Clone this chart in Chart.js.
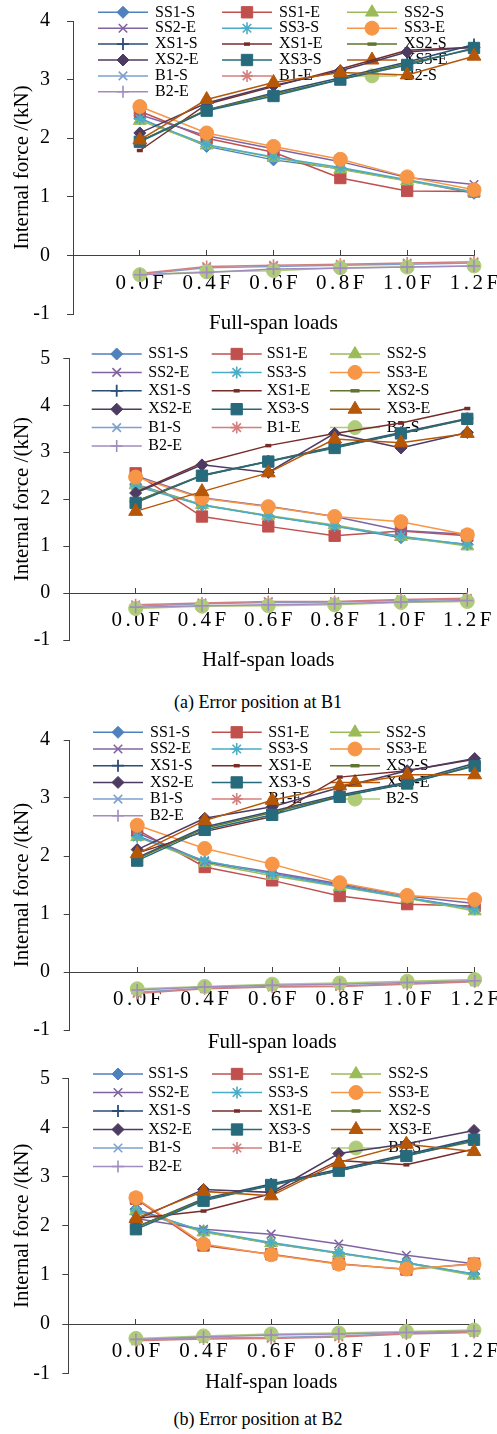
<!DOCTYPE html>
<html>
<head>
<meta charset="utf-8">
<script src="https://cdn.jsdelivr.net/npm/chart.js@4.4.1/dist/chart.umd.min.js"></script>
<style>
html,body{margin:0;padding:0;background:#fff;}
body{width:497px;height:1434px;position:relative;overflow:hidden;}
canvas{position:absolute;left:0;}
.cap{position:absolute;left:258px;transform:translateX(-50%);white-space:nowrap;
  font-family:"Liberation Serif","Times New Roman",Times,serif;font-size:18px;line-height:18px;height:18px;color:#000;}
</style>
</head>
<body>
<canvas id="c1"></canvas>
<canvas id="c2"></canvas>
<div class="cap" style="top:693px">(a) Error position at B1</div>
<canvas id="c3"></canvas>
<canvas id="c4"></canvas>
<div class="cap" style="top:1410px">(b) Error position at B2</div>
<script>
// ---------- data ----------
const categories = ['0.0F', '0.4F', '0.6F', '0.8F', '1.0F', '1.2F'];
const seriesNames = ['SS1-S', 'SS1-E', 'SS2-S', 'SS2-E', 'SS3-S', 'SS3-E',
  'XS1-S', 'XS1-E', 'XS2-S', 'XS2-E', 'XS3-S', 'XS3-E',
  'B1-S', 'B1-E', 'B2-S', 'B2-E'];
const yTicksFull = [-1, 0, 1, 2, 3, 4];
const yTicksHalf = [-1, 0, 1, 2, 3, 4, 5];

// (a) error at B1, full-span loads
const b1Full = [
  [2.34, 1.86, 1.63, 1.48, 1.28, 1.06],
  [2.46, 2.00, 1.76, 1.32, 1.10, 1.09],
  [2.30, 1.88, 1.67, 1.47, 1.27, 1.08],
  [2.40, 2.04, 1.82, 1.60, 1.33, 1.21],
  [2.33, 1.89, 1.68, 1.50, 1.29, 1.08],
  [2.54, 2.09, 1.86, 1.64, 1.34, 1.12],
  [1.95, 2.48, 2.77, 3.03, 3.30, 3.60],
  [1.79, 2.58, 2.88, 3.18, 3.50, 3.55],
  [1.95, 2.48, 2.75, 3.00, 3.28, 3.52],
  [2.09, 2.60, 2.90, 3.15, 3.47, 3.55],
  [1.94, 2.47, 2.72, 3.00, 3.25, 3.54],
  [1.97, 2.66, 2.95, 3.12, 3.08, 3.40],
  [-0.32, -0.21, -0.19, -0.17, -0.15, -0.13],
  [-0.31, -0.19, -0.17, -0.15, -0.13, -0.11],
  [-0.33, -0.28, -0.26, -0.21, -0.20, -0.18],
  [-0.33, -0.29, -0.23, -0.22, -0.20, -0.18]
];
// (a) error at B1, half-span loads
const b1Half = [
  [2.32, 1.88, 1.64, 1.43, 1.18, 1.04],
  [2.55, 1.63, 1.42, 1.22, 1.32, 1.22],
  [2.30, 1.88, 1.65, 1.45, 1.20, 1.00],
  [2.50, 2.03, 1.85, 1.63, 1.33, 1.25],
  [2.28, 1.87, 1.64, 1.43, 1.21, 1.03],
  [2.47, 2.02, 1.84, 1.63, 1.52, 1.24],
  [1.95, 2.51, 2.81, 3.12, 3.42, 3.72],
  [2.15, 2.77, 3.14, 3.40, 3.62, 3.93],
  [1.95, 2.50, 2.80, 3.10, 3.40, 3.70],
  [2.13, 2.73, 2.57, 3.40, 3.09, 3.42],
  [1.92, 2.50, 2.80, 3.09, 3.40, 3.71],
  [1.74, 2.16, 2.56, 3.28, 3.20, 3.40],
  [-0.28, -0.23, -0.20, -0.19, -0.16, -0.13],
  [-0.25, -0.21, -0.18, -0.18, -0.14, -0.11],
  [-0.33, -0.28, -0.27, -0.25, -0.20, -0.18],
  [-0.30, -0.27, -0.25, -0.23, -0.19, -0.16]
];
// (b) error at B2, full-span loads
const b2Full = [
  [2.35, 1.89, 1.70, 1.50, 1.28, 1.10],
  [2.45, 1.81, 1.58, 1.31, 1.17, 1.14],
  [2.33, 1.88, 1.66, 1.47, 1.27, 1.05],
  [2.40, 1.90, 1.72, 1.52, 1.31, 1.18],
  [2.33, 1.92, 1.69, 1.48, 1.28, 1.08],
  [2.53, 2.13, 1.86, 1.54, 1.32, 1.25],
  [1.97, 2.50, 2.77, 3.05, 3.27, 3.60],
  [2.05, 2.42, 2.68, 3.36, 3.47, 3.67],
  [1.95, 2.48, 2.75, 3.03, 3.25, 3.57],
  [2.11, 2.65, 2.85, 3.18, 3.47, 3.68],
  [1.92, 2.45, 2.71, 3.02, 3.25, 3.55],
  [2.04, 2.61, 2.96, 3.21, 3.40, 3.40],
  [-0.35, -0.28, -0.25, -0.24, -0.20, -0.16],
  [-0.37, -0.29, -0.26, -0.25, -0.21, -0.17],
  [-0.29, -0.25, -0.21, -0.19, -0.16, -0.13],
  [-0.31, -0.26, -0.23, -0.21, -0.18, -0.15]
];
// (b) error at B2, half-span loads
const b2Half = [
  [2.34, 1.88, 1.64, 1.44, 1.25, 1.02],
  [2.55, 1.60, 1.42, 1.23, 1.11, 1.23],
  [2.30, 1.87, 1.65, 1.44, 1.24, 0.99],
  [2.15, 1.93, 1.83, 1.63, 1.40, 1.23],
  [2.30, 1.90, 1.66, 1.45, 1.25, 1.02],
  [2.57, 1.63, 1.41, 1.22, 1.12, 1.22],
  [1.97, 2.55, 2.85, 3.15, 3.45, 3.77],
  [2.15, 2.30, 2.65, 3.33, 3.24, 3.56],
  [1.97, 2.53, 2.82, 3.12, 3.43, 3.72],
  [2.12, 2.74, 2.68, 3.47, 3.67, 3.94],
  [1.93, 2.51, 2.83, 3.12, 3.42, 3.75],
  [2.15, 2.70, 2.61, 3.29, 3.66, 3.51],
  [-0.32, -0.28, -0.27, -0.24, -0.19, -0.16],
  [-0.34, -0.30, -0.29, -0.26, -0.20, -0.17],
  [-0.29, -0.24, -0.20, -0.18, -0.15, -0.12],
  [-0.31, -0.26, -0.22, -0.20, -0.17, -0.14]
];

// ---------- styles ----------
const SERIF = '"Liberation Serif","Times New Roman",Times,serif';
const AXIS = '#404040';
const seriesColors = ['#4F81BD', '#C0504D', '#9BBB59', '#8064A2', '#4BACC6', '#F79646',
  '#2C4D75', '#772C2A', '#5F7530', '#4D3B62', '#276A7C', '#B65708',
  '#7EA0CF', '#D47F7D', '#AFCB78', '#A18CC0'];
const seriesMarkers = ['rectRot', 'rect', 'triangle', 'crossRot', 'star', 'circle',
  'cross', 'line', 'line', 'rectRot', 'rect', 'triangle',
  'crossRot', 'star', 'circle', 'cross'];
const markerRadius = [6, 8, 7.5, 6, 6, 7, 6, 3, 4.5, 6, 8, 8, 6, 6, 7, 6];
const markerBorder = [1, 1, 1, 1.6, 1.6, 1, 1.8, 3.5, 3.5, 1, 1, 1, 1.6, 1.6, 1, 1.6];

const panels = [
  {id: 'c1', values: b1Full, yTicks: yTicksFull, title: 'Full-span loads', top: 0, height: 336,
   plotTop: 21, plotBottom: 314, axisX: 73, plotRight: 474, titleGap: 0, yLabelPad: 17,
   legend: {lineX: [98, 222, 347], textX: [155, 279, 404], rowY: 12.3, rowStep: 15.9}},
  {id: 'c2', values: b1Half, yTicks: yTicksHalf, title: 'Half-span loads', top: 340, height: 334,
   plotTop: 358.3, plotBottom: 640, axisX: 69.3, plotRight: 467.3, titleGap: 11.5, yLabelPad: 13,
   legend: {lineX: [91.7, 211.7, 330], textX: [148.3, 266.7, 386.7], rowY: 354, rowStep: 18.4}},
  {id: 'c3', values: b2Full, yTicks: yTicksFull, title: 'Full-span loads', top: 716, height: 339,
   plotTop: 740, plotBottom: 1030, axisX: 69.7, plotRight: 474.7, titleGap: 3, yLabelPad: 13.7,
   legend: {lineX: [93, 211.7, 330], textX: [150, 268.3, 386], rowY: 732.3, rowStep: 16.7}},
  {id: 'c4', values: b2Half, yTicks: yTicksHalf, title: 'Half-span loads', top: 1056, height: 340,
   plotTop: 1078.3, plotBottom: 1373.3, axisX: 68.3, plotRight: 474, titleGap: 0, yLabelPad: 12.3,
   legend: {lineX: [93, 212, 331], textX: [148.3, 268.3, 388.3], rowY: 1074, rowStep: 18.5}}
];

// legend laid out as a 3-column grid, drawn from the datasets' own styles
const gridLegend = {
  id: 'gridLegend',
  beforeDatasetsDraw(chart, args, opts) {
    const ctx = chart.ctx;
    ctx.save();
    chart.data.datasets.forEach((ds, i) => {
      const col = i % 3, row = Math.floor(i / 3);
      const x0 = opts.lineX[col];
      const y = opts.rowY + row * opts.rowStep;
      ctx.strokeStyle = ds.borderColor;
      ctx.lineWidth = ds.borderWidth;
      ctx.beginPath();
      ctx.moveTo(x0, y);
      ctx.lineTo(x0 + opts.lineLen, y);
      ctx.stroke();
      ctx.fillStyle = ds.pointBackgroundColor;
      ctx.strokeStyle = ds.pointBorderColor;
      ctx.lineWidth = ds.pointBorderWidth;
      Chart.helpers.drawPoint(ctx, {pointStyle: ds.pointStyle, radius: ds.pointRadius, rotation: 0,
        borderWidth: ds.pointBorderWidth}, x0 + opts.lineLen / 2, y);
      ctx.fillStyle = '#000';
      ctx.font = opts.font;
      ctx.textAlign = 'left';
      ctx.textBaseline = 'middle';
      ctx.fillText(ds.label, opts.textX[col], y);
    });
    ctx.restore();
  }
};

panels.forEach(p => {
  const cv = document.getElementById(p.id);
  cv.width = 497;
  cv.height = p.height;
  cv.style.top = p.top + 'px';
  const titleBox = p.titleGap + 18;
  const padBottom = p.height - (p.plotBottom - p.top) - titleBox;

  const datasets = seriesNames.map((name, i) => ({
    label: name,
    data: p.values[i].map((v, j) => ({x: j, y: v})),
    borderColor: seriesColors[i],
    backgroundColor: seriesColors[i],
    pointBackgroundColor: seriesColors[i],
    pointBorderColor: seriesColors[i],
    pointStyle: seriesMarkers[i],
    pointRadius: markerRadius[i],
    pointBorderWidth: markerBorder[i],
    borderWidth: 1.5,
    tension: 0,
    fill: false,
    clip: false,
    order: -i
  }));

  new Chart(cv, {
    type: 'line',
    data: {datasets},
    options: {
      responsive: false,
      animation: false,
      devicePixelRatio: 1,
      events: [],
      layout: {padding: {left: 0, top: p.plotTop - p.top, right: 497 - p.plotRight, bottom: padBottom}},
      plugins: {
        legend: {display: false},
        tooltip: {enabled: false},
        title: {
          display: true, text: p.title, position: 'bottom', fullSize: false, color: '#000',
          font: {family: SERIF, size: 21, weight: 'normal', lineHeight: '18px'},
          padding: {top: p.titleGap, bottom: 0}
        },
        gridLegend: {
          lineX: p.legend.lineX, textX: p.legend.textX, lineLen: 50,
          rowY: p.legend.rowY - p.top, rowStep: p.legend.rowStep,
          font: '16px ' + SERIF
        }
      },
      scales: {
        x: {
          type: 'linear', position: {y: 0}, min: -1, max: 5,
          ticks: {
            stepSize: 1, autoSkip: false, maxRotation: 0, minRotation: 0, color: '#000',
            font: {family: SERIF, size: 21}, padding: 21,
            callback: (v) => categories[v] ? categories[v].split('').join('\u2006') : ''
          },
          grid: {drawOnChartArea: false, drawTicks: true, tickLength: -6, color: AXIS, lineWidth: 1},
          border: {display: true, color: AXIS, width: 1},
          afterFit(s) { s.paddingLeft = 0; s.paddingRight = 0; }
        },
        y: {
          type: 'linear', position: 'left',
          min: p.yTicks[0], max: p.yTicks[p.yTicks.length - 1],
          ticks: {stepSize: 1, color: '#000', font: {family: SERIF, size: 20}, padding: p.yLabelPad,
            callback: (v) => String(v)},
          grid: {drawOnChartArea: false, drawTicks: true, tickLength: 6, color: AXIS, lineWidth: 1},
          border: {display: true, color: AXIS, width: 1},
          title: {display: true, text: 'Internal force /(kN)', color: '#000',
            font: {family: SERIF, size: 21}, padding: {top: 9.5, bottom: 0}},
          afterFit(s) { s.width = p.axisX; s.paddingTop = 0; s.paddingBottom = 0; }
        }
      }
    },
    plugins: [gridLegend]
  });
});
</script>
</body>
</html>
